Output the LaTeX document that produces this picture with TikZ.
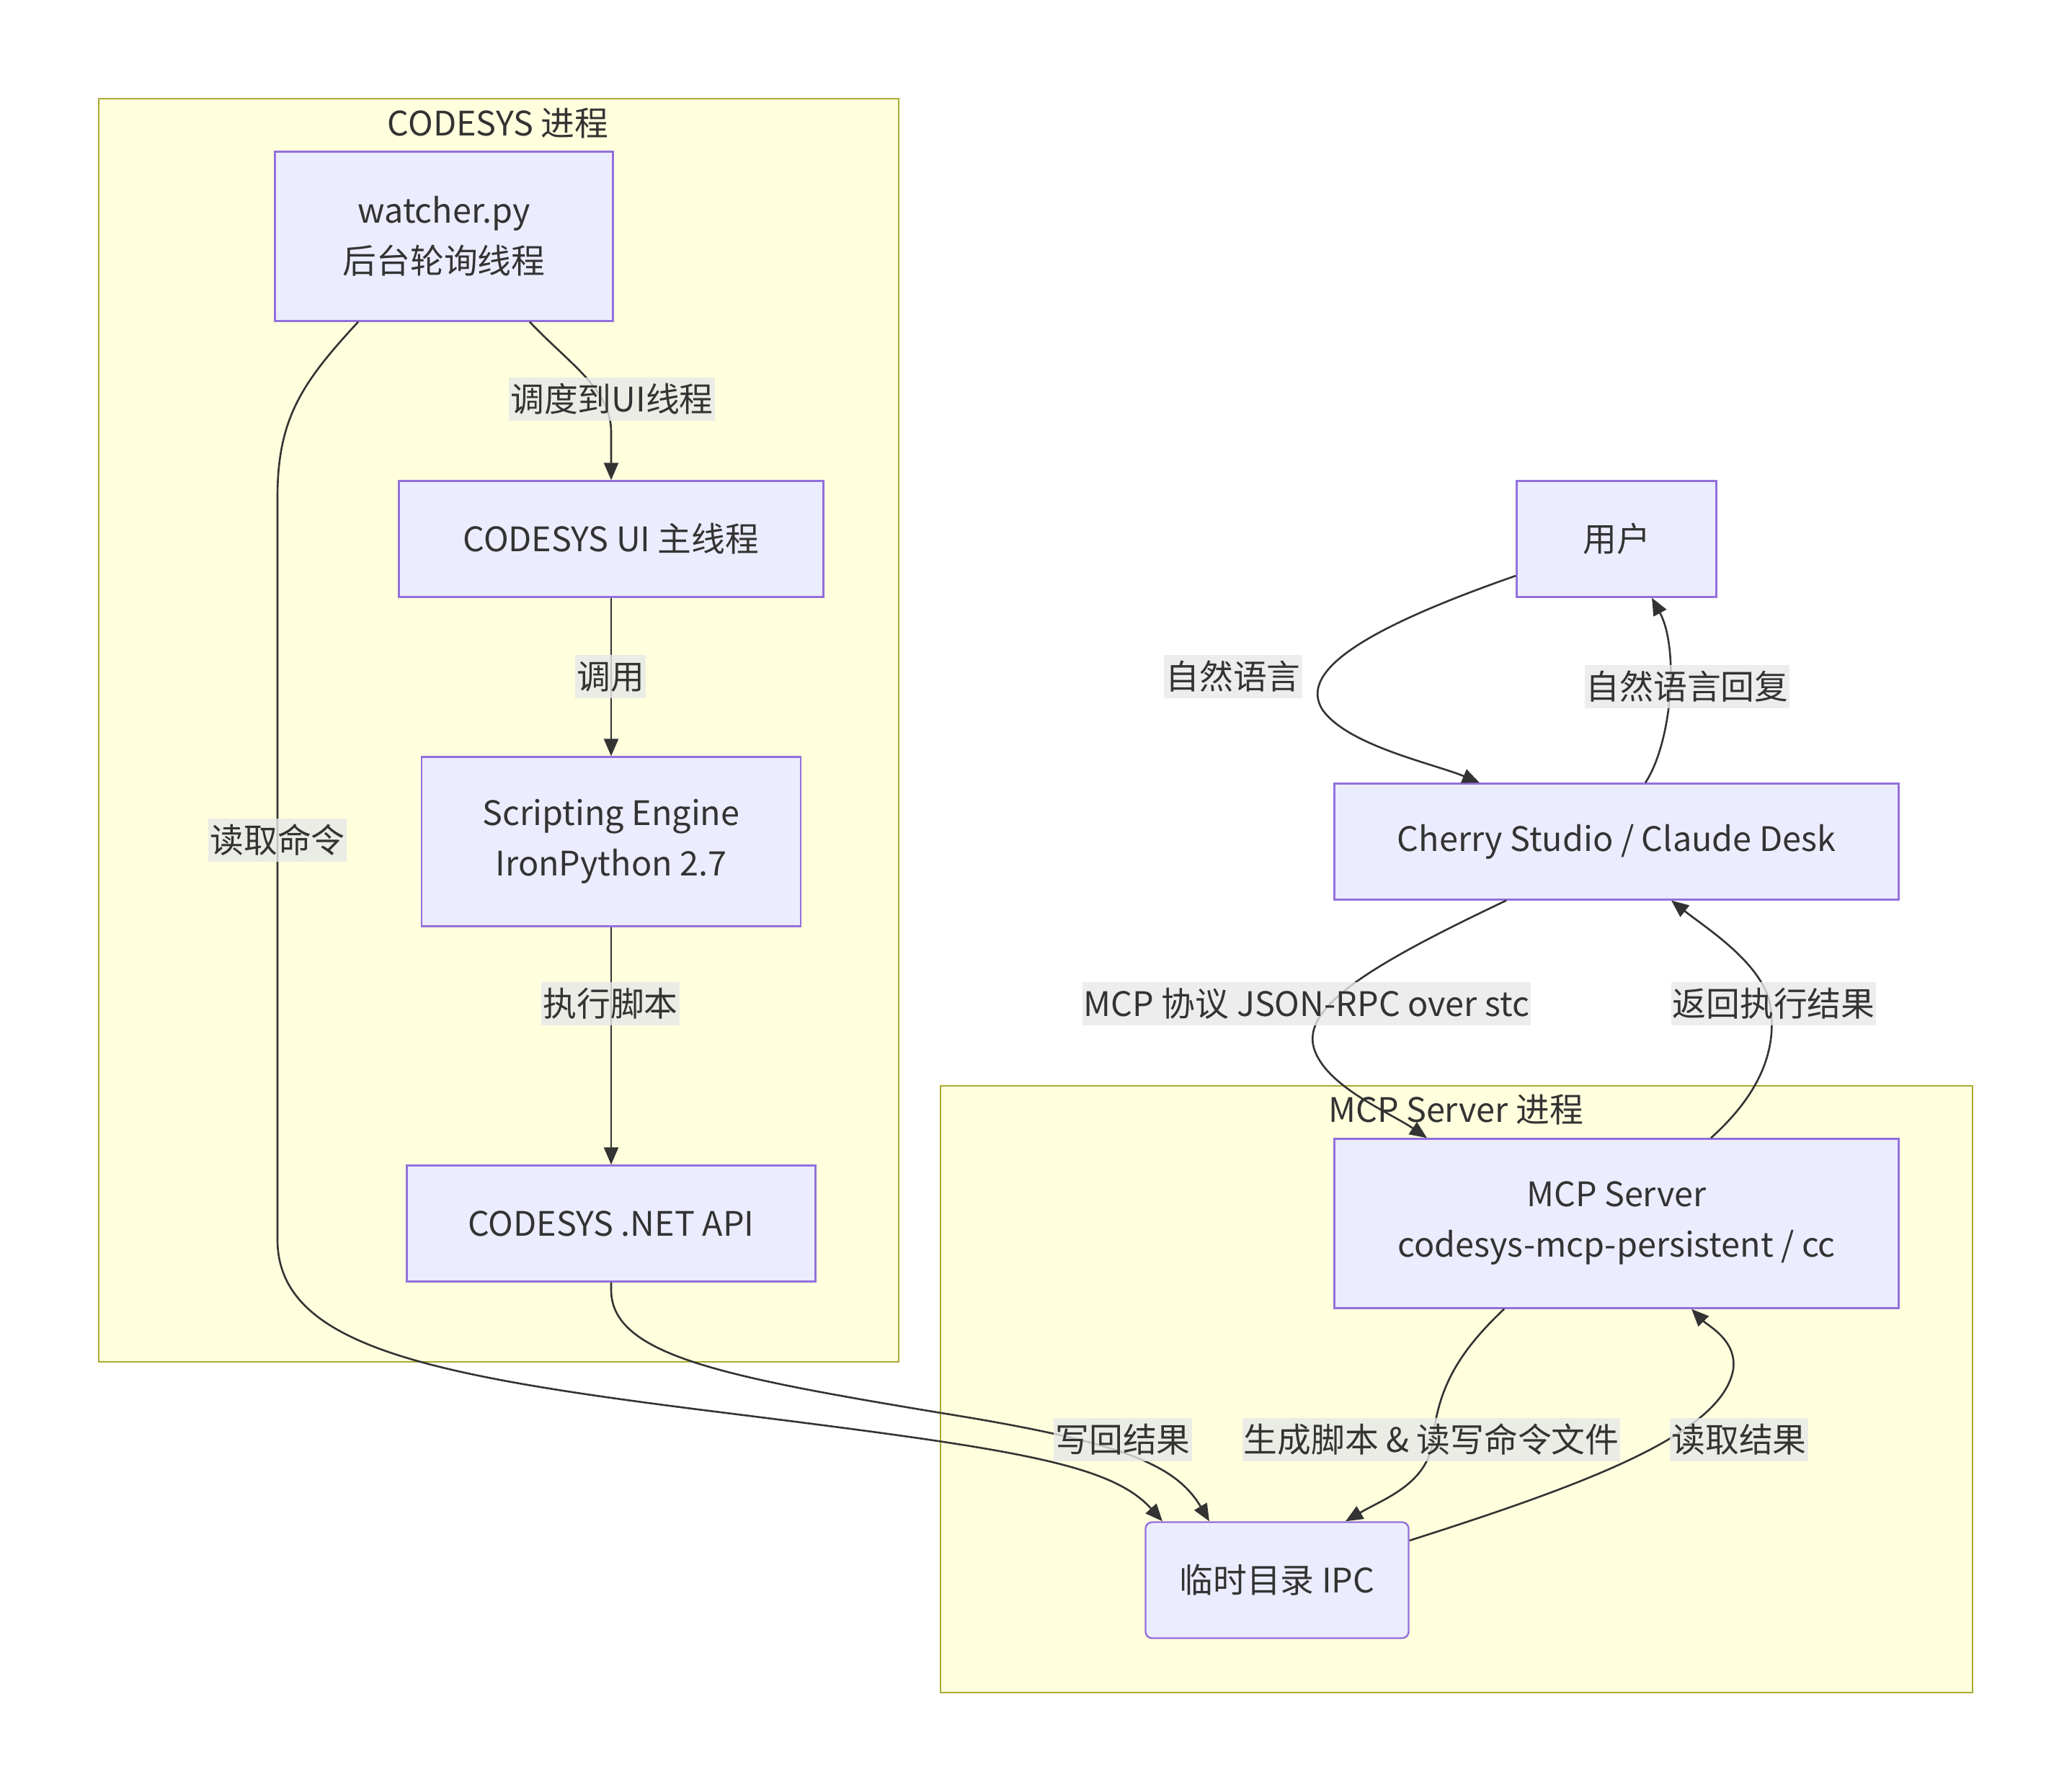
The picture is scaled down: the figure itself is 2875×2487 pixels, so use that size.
\documentclass[tikz,border=0pt]{standalone}
\usepackage{fontspec}
\setmainfont{Noto Sans CJK SC}
\usetikzlibrary{arrows.meta,calc}

\begin{document}
\begin{tikzpicture}[x=0.5pt, y=-0.5pt,
    every node/.style={font=\fontsize{23.4}{35}\selectfont, text=ink},
    proc/.style={rectangle, draw=node-border, fill=node-fill,
        line width=1.2pt, inner sep=0pt, align=center},
    elabel/.style={fill=label-grey, fill opacity=0.8, text opacity=1,
        inner xsep=1pt, inner ysep=0pt, minimum height=30pt},
    flow/.style={draw=ink, line width=1.3pt,
        -{Triangle[length=12pt, width=10pt]}},
    cluster/.style={draw=cluster-border, fill=cluster-fill, line width=1.2pt}]
    % Definitions
    \definecolor{node-fill}{HTML}{ECECFF}
    \definecolor{node-border}{HTML}{9370DB}
    \definecolor{cluster-fill}{HTML}{FFFFDE}
    \definecolor{cluster-border}{HTML}{AAAA33}
    \definecolor{label-grey}{HTML}{E8E8E8}
    \definecolor{ink}{HTML}{333333}

    \useasboundingbox (0,0) rectangle (2875,2487);

    % Clusters
    \draw[cluster] (137,137) rectangle (1247,1890);
    \node (codesys-title) at (691,171) {CODESYS 进程};
    \draw[cluster] (1305,1507) rectangle (2737,2349);
    \node (server-title) at (2020,1540) {MCP Server 进程};

    % CODESYS side
    \node[proc, minimum width=234.5pt, minimum height=117.5pt]
        (watcher) at (616,328) {watcher.py\\后台轮询线程};
    \node[proc, minimum width=294.5pt, minimum height=80.5pt]
        (ui) at (848,748) {CODESYS UI 主线程};
    \node[proc, minimum width=263pt, minimum height=117.5pt]
        (engine) at (848,1168) {Scripting Engine\\IronPython 2.7};
    \node[proc, minimum width=283.5pt, minimum height=80.5pt]
        (dotnet) at (848,1698) {CODESYS .NET API};

    % Client side
    \node[proc, minimum width=138.5pt, minimum height=80.5pt]
        (user) at (2243,748) {用户};
    \node[proc, minimum width=391.5pt, minimum height=80.5pt]
        (client) at (2243,1168) {Cherry Studio / Claude Desk};
    \node[proc, minimum width=391.5pt, minimum height=117.5pt]
        (server) at (2243,1698) {MCP Server\\codesys-mcp-persistent / cc};
    \node[proc, rounded corners=4.5pt, minimum width=182.5pt,
          minimum height=80.5pt
    ] (ipc) at (1772,2193) {临时目录 IPC};

    % Edges
    \draw[flow] ($(watcher.south)+(119,0)$) .. controls (790,505)
        and (848,540) .. (848,600) -- (ui.north);
    \draw[flow] (ui) -- (engine);
    \draw[flow] (engine) -- (dotnet);
    \draw[flow] ($(watcher.south)+(-119,0)$) .. controls (420,530)
        and (385,580) .. (385,690) -- (385,1720)
        .. controls (385,1870) and (600,1910) .. (1000,1960)
        .. controls (1400,2010) and (1540,2030) .. ($(ipc.north)+(-159,0)$);
    \draw[flow] (dotnet.south) -- (848,1790)
        .. controls (848,1880) and (1000,1910) .. (1300,1960)
        .. controls (1550,2000) and (1630,2030) .. ($(ipc.north)+(-94,0)$);
    \draw[flow] ($(user.west)+(0,51)$) .. controls (1900,870)
        and (1800,930) .. (1835,985)
        .. controls (1870,1035) and (1990,1060) .. ($(client.north)+(-190,0)$);
    \draw[flow] ($(client.north)+(40,0)$) .. controls (2320,1030)
        and (2330,900) .. ($(user.south)+(49,0)$);
    \draw[flow] ($(client.south)+(-153,0)$) .. controls (1900,1340)
        and (1800,1400) .. (1825,1460)
        .. controls (1845,1510) and (1930,1545) .. ($(server.north)+(-263,0)$);
    \draw[flow] ($(server.north)+(131,0)$) .. controls (2440,1520)
        and (2465,1460) .. (2457,1400)
        .. controls (2450,1340) and (2370,1290) .. ($(client.south)+(76,0)$);
    \draw[flow] ($(server.south)+(-156,0)$) .. controls (2020,1880)
        and (1995,1930) .. (1988,2000)
        .. controls (1980,2060) and (1920,2080) .. ($(ipc.north)+(95,0)$);
    \draw[flow] ($(ipc.east)+(0,-55)$) .. controls (2200,2060)
        and (2390,1990) .. (2405,1900)
        .. controls (2410,1860) and (2370,1840) .. ($(server.south)+(104,0)$);

    % Edge labels
    \node[elabel] (lbl-dispatch) at (849,554) {调度到UI线程};
    \node[elabel] (lbl-call) at (847,939) {调用};
    \node[elabel] (lbl-exec) at (847,1393) {执行脚本};
    \node[elabel] (lbl-read-cmd) at (385,1166) {读取命令};
    \node[elabel] (lbl-ask) at (1711,939) {自然语言};
    \node[elabel] (lbl-reply) at (2341,953) {自然语言回复};
    \node[elabel] (lbl-mcp) at (1813,1393) {MCP 协议 JSON-RPC over stc};
    \node[elabel] (lbl-return) at (2461,1393) {返回执行结果};
    \node[elabel] (lbl-write-back) at (1558,1998) {写回结果};
    \node[elabel] (lbl-generate) at (1986,1998) {生成脚本 \& 读写命令文件};
    \node[elabel] (lbl-read-res) at (2413,1998) {读取结果};
\end{tikzpicture}
\end{document}
